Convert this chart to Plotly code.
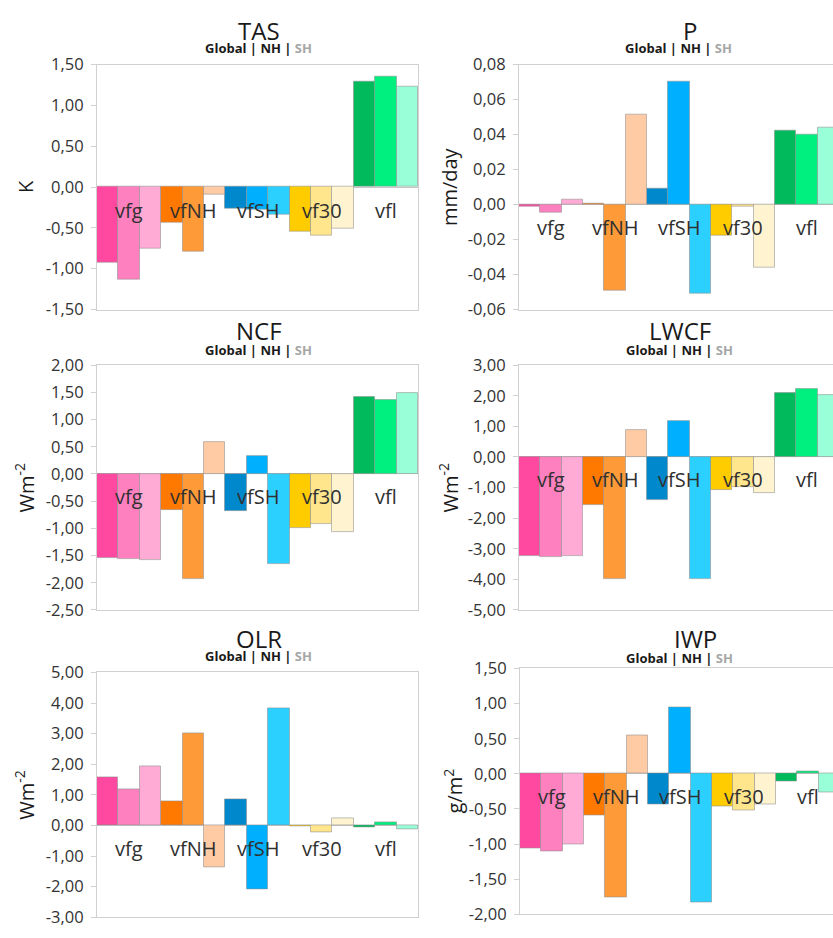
import plotly.graph_objects as go

# Experiments (categories) and the three regions shown per experiment
experiments = ["vfg", "vfNH", "vfSH", "vf30", "vfl"]
regions = ["Global", "NH", "SH"]

# Bar colours: one shade per region for every experiment
colors_global = ["#FF48A0", "#FF7800", "#0088CC", "#FFCC00", "#00BA5C"]
colors_nh = ["#FF80BF", "#FF9A38", "#00B0FF", "#FFE58C", "#00F080"]
colors_sh = ["#FFABD5", "#FFCBA4", "#2BD0FF", "#FFF4CF", "#99FFD8"]

# Panel values: [Global, NH, SH], each listed over the experiments
tas_global = [-0.93, -0.44, -0.27, -0.55, 1.29]
tas_nh = [-1.14, -0.79, -0.28, -0.59, 1.35]
tas_sh = [-0.75, -0.09, -0.34, -0.51, 1.23]

p_global = [-0.001, 0.0006, 0.0089, -0.0177, 0.0422]
p_nh = [-0.0046, -0.049, 0.0705, -0.001, 0.040]
p_sh = [0.003, 0.0515, -0.0508, -0.0359, 0.0442]

ncf_global = [-1.55, -0.665, -0.68, -0.99, 1.41]
ncf_nh = [-1.56, -1.93, 0.32, -0.93, 1.36]
ncf_sh = [-1.58, 0.58, -1.65, -1.07, 1.49]

lwcf_global = [-3.24, -1.57, -1.40, -1.09, 2.10]
lwcf_nh = [-3.27, -3.98, 1.16, -0.98, 2.22]
lwcf_sh = [-3.24, 0.87, -3.98, -1.19, 2.01]

olr_global = [1.56, 0.77, 0.85, -0.02, -0.05]
olr_nh = [1.19, 3.02, -2.09, -0.23, 0.11]
olr_sh = [1.92, -1.38, 3.82, 0.23, -0.13]

iwp_global = [-1.06, -0.59, -0.43, -0.46, -0.11]
iwp_nh = [-1.11, -1.76, 0.94, -0.52, 0.04]
iwp_sh = [-1.00, 0.55, -1.83, -0.43, -0.27]

# Titles, units and y tick values per panel
panel_titles = ["TAS", "P", "NCF", "LWCF", "OLR", "IWP"]
panel_units = ["K", "mm/day", "Wm<sup>-2</sup>", "Wm<sup>-2</sup>", "Wm<sup>-2</sup>", "g/m<sup>2</sup>"]
tas_ticks = [-1.5, -1.0, -0.5, 0.0, 0.5, 1.0, 1.5]
p_ticks = [-0.06, -0.04, -0.02, 0.0, 0.02, 0.04, 0.06, 0.08]
ncf_ticks = [-2.5, -2.0, -1.5, -1.0, -0.5, 0.0, 0.5, 1.0, 1.5, 2.0]
lwcf_ticks = [-5, -4, -3, -2, -1, 0, 1, 2, 3]
olr_ticks = [-3, -2, -1, 0, 1, 2, 3, 4, 5]
iwp_ticks = [-2.0, -1.5, -1.0, -0.5, 0.0, 0.5, 1.0, 1.5]

panel_values = [
    (tas_global, tas_nh, tas_sh),
    (p_global, p_nh, p_sh),
    (ncf_global, ncf_nh, ncf_sh),
    (lwcf_global, lwcf_nh, lwcf_sh),
    (olr_global, olr_nh, olr_sh),
    (iwp_global, iwp_nh, iwp_sh),
]
panel_ticks = [tas_ticks, p_ticks, ncf_ticks, lwcf_ticks, olr_ticks, iwp_ticks]

W, H = 833, 938

# Plot-area placement in pixels: (left, right, top, bottom)
boxes = [
    (97, 418, 54, 305),
    (519, 833, 54, 305),
    (97, 418, 362, 613),
    (519, 833, 362, 613),
    (97, 418, 677, 928),
    (520, 833, 673, 925),
]
# Title centres (x, y) and axis-title x position in pixels
title_pos = [(259, 19), (690, 19), (259, 327), (680, 327), (259, 642), (695, 642)]
sub_pos = [(258, 37), (678, 37), (258, 347), (679, 346), (258, 660), (679, 662)]
unit_x = [25, 449, 25, 449, 25, 453]

FONT = "Open Sans"
TXT = "#333333"
AXIS_LINE = "#D0D0D0"

fig = go.Figure()
annotations = []
layout = {}

for i, (title, unit, vals, ticks, box) in enumerate(
        zip(panel_titles, panel_units, panel_values, panel_ticks, boxes)):
    n = i + 1
    xa, ya = f"x{n}", f"y{n}"
    left, right, top, bottom = box
    is_right = i % 2 == 1

    for region, v, cols in zip(regions, vals, (colors_global, colors_nh, colors_sh)):
        fig.add_trace(go.Bar(
            x=experiments, y=v, name=region, xaxis=xa, yaxis=ya,
            offsetgroup=region,
            marker=dict(color=cols, line=dict(color="rgba(140,140,140,0.55)", width=1)),
            showlegend=False,
        ))

    if is_right:
        # category width 64 px; the panel runs past the page edge
        xr_end = (right - left) / 64.0 - 0.5
        xdom = [left / W, 1.0]
    else:
        xr_end = 4.5
        xdom = [left / W, right / W]

    layout[f"xaxis{n}"] = dict(
        domain=xdom, anchor=ya, range=[-0.5, xr_end],
        showticklabels=False, ticks="", showgrid=False, zeroline=False,
        showline=True, mirror=True, linecolor=AXIS_LINE, linewidth=1,
        fixedrange=True,
    )
    layout[f"yaxis{n}"] = dict(
        domain=[1 - bottom / H, 1 - top / H], anchor=xa,
        range=[ticks[0], ticks[-1]],
        tickvals=ticks,
        ticktext=[f"{t:.2f}".replace(".", ",") for t in ticks],
        tickfont=dict(family=FONT, size=16.5, color=TXT),
        ticks="outside", ticklen=5, tickcolor=AXIS_LINE, ticklabelstandoff=4,
        showgrid=False, zeroline=True, zerolinecolor="#C8C8C8", zerolinewidth=1,
        showline=True, mirror=not is_right, linecolor=AXIS_LINE, linewidth=1,
        fixedrange=True,
    )

    # experiment labels sit just under the zero line
    for e in experiments:
        annotations.append(dict(
            xref=xa, yref=ya, x=e, y=0, yshift=-23, text=e, showarrow=False,
            font=dict(family=FONT, size=20, color="#303030"),
            xanchor="center", yanchor="middle",
        ))

    tx, ty = title_pos[i]
    annotations.append(dict(
        xref="paper", yref="paper", x=tx / W, y=1 - ty / H, text=title,
        showarrow=False, xanchor="center", yanchor="middle",
        font=dict(family=FONT, size=24, color="#1A1A1A"),
    ))
    sx, sy = sub_pos[i]
    annotations.append(dict(
        xref="paper", yref="paper", x=sx / W, y=1 - sy / H,
        text="<b>Global | NH | </b><b><span style='color:#A6A6A6'>SH</span></b>",
        showarrow=False, xanchor="center", yanchor="middle",
        font=dict(family=FONT, size=13, color="#1A1A1A"),
    ))
    annotations.append(dict(
        xref="paper", yref="paper", x=unit_x[i] / W,
        y=1 - (top + bottom) / 2 / H, text=unit, textangle=-90,
        showarrow=False, xanchor="center", yanchor="middle",
        font=dict(family=FONT, size=20, color="#1A1A1A"),
    ))

fig.update_layout(
    **layout,
    width=W, height=H,
    margin=dict(l=0, r=0, t=0, b=0),
    paper_bgcolor="white", plot_bgcolor="white",
    barmode="group", bargap=0, bargroupgap=0,
    annotations=annotations,
    showlegend=False,
)

fig.write_html("out.html", config={"displayModeBar": False})
